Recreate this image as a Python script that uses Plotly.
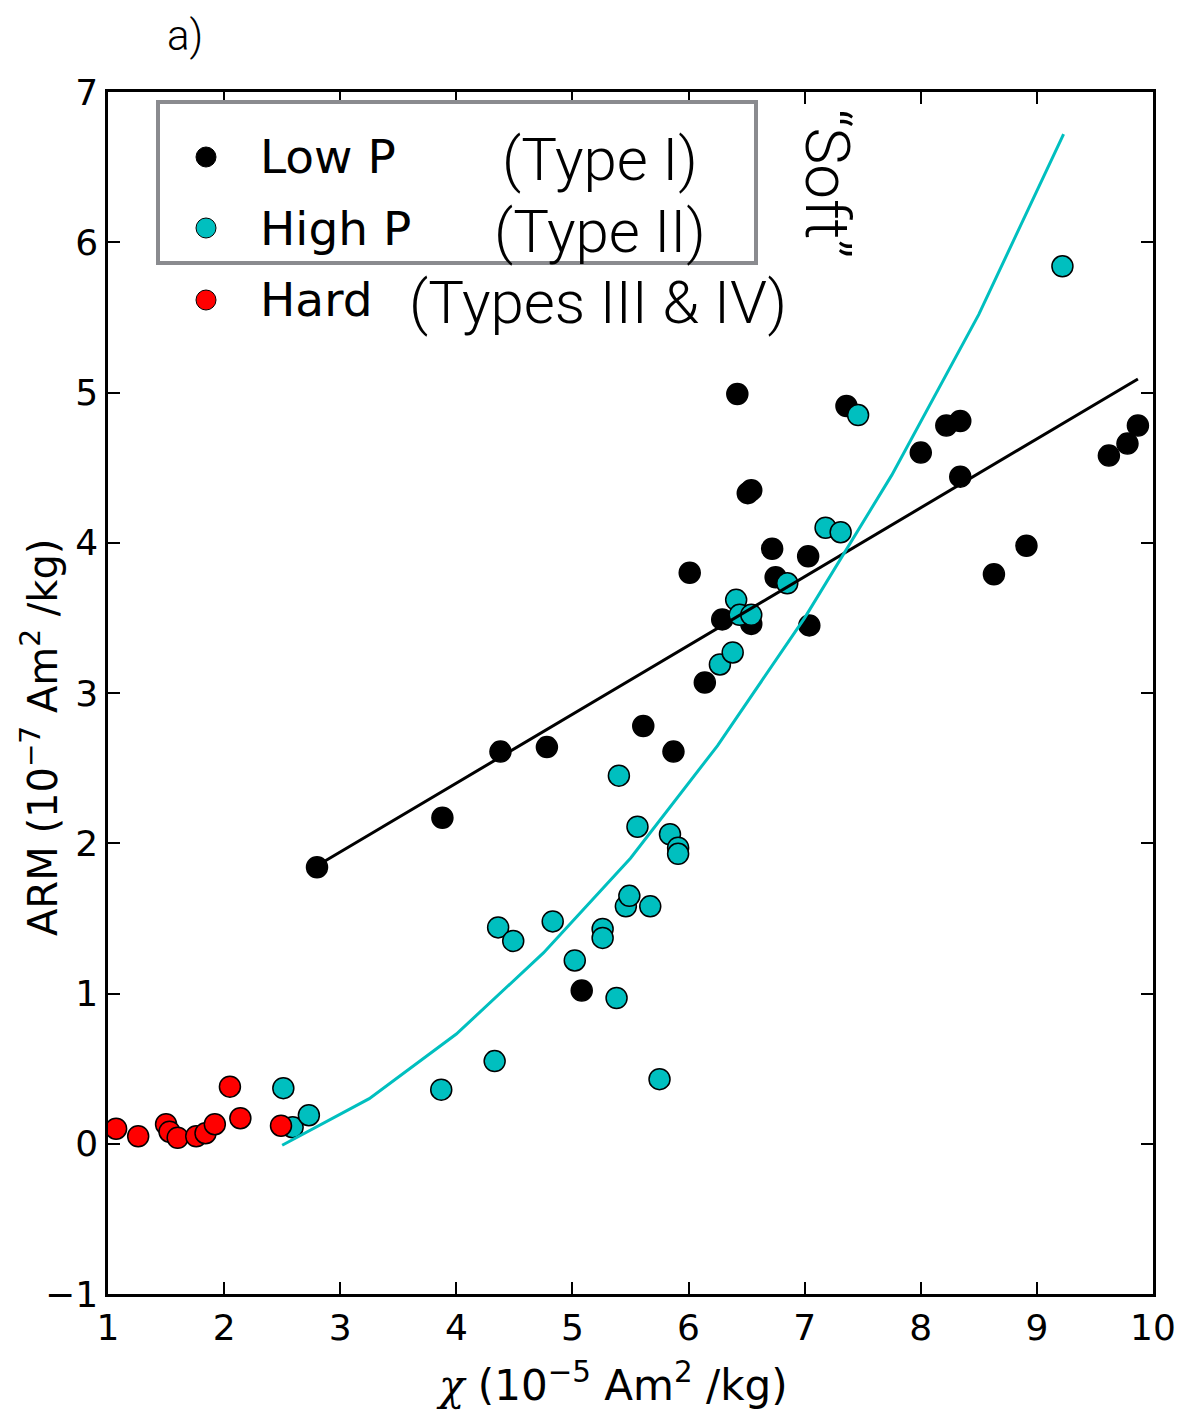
import plotly.graph_objects as go

# ---------------- data ----------------
low_x = [2.80, 3.88, 4.38, 4.78, 5.08, 5.61, 5.87, 6.14, 6.01, 6.29, 6.54, 6.42, 6.51, 6.54,
         6.72, 6.75, 7.03, 7.04, 7.36, 8.00, 8.22, 8.34, 8.34, 8.63, 8.91, 9.62, 9.78, 9.87]
low_y = [1.84, 2.17, 2.61, 2.64, 1.02, 2.78, 2.61, 3.07, 3.80, 3.49, 3.46, 4.99, 4.33, 4.35,
         3.96, 3.77, 3.91, 3.45, 4.91, 4.60, 4.78, 4.81, 4.44, 3.79, 3.98, 4.58, 4.66, 4.78]

high_x = [2.51, 2.59, 2.73, 3.87, 4.33, 4.36, 4.49, 4.83, 5.02, 5.26, 5.26, 5.38, 5.46, 5.49,
          5.67, 5.75, 5.40, 5.56, 5.84, 5.91, 5.91, 6.27, 6.38, 6.41, 6.44, 6.54, 6.85, 7.18,
          7.31, 7.46, 9.22]
high_y = [0.37, 0.11, 0.19, 0.36, 0.55, 1.44, 1.35, 1.48, 1.22, 1.43, 1.37, 0.97, 1.58, 1.65,
          1.58, 0.43, 2.45, 2.11, 2.06, 1.97, 1.93, 3.19, 3.27, 3.62, 3.52, 3.52, 3.73, 4.10,
          4.07, 4.85, 5.84]

hard_x = [1.07, 1.26, 1.50, 1.53, 1.60, 1.76, 1.84, 1.92, 2.05, 2.14, 2.49]
hard_y = [0.10, 0.05, 0.13, 0.08, 0.04, 0.05, 0.07, 0.13, 0.38, 0.17, 0.12]

# fitted curves as drawn
low_fit_x = [2.80, 9.87]
low_fit_y = [1.85, 5.09]
high_fit_x = [2.50, 3.25, 4.00, 4.75, 5.50, 6.25, 7.00, 7.75, 8.50, 9.23]
high_fit_y = [-0.01, 0.30, 0.73, 1.27, 1.90, 2.65, 3.50, 4.45, 5.52, 6.72]

x_ticks = [1, 2, 3, 4, 5, 6, 7, 8, 9, 10]
y_ticks = [-1, 0, 1, 2, 3, 4, 5, 6, 7]

legend_labels = ["Low P", "High P", "Hard"]
legend_types = ["(Type I)", "(Type II)", "(Types III & IV)"]

# ---------------- styling ----------------
BLACK = "#000000"
CYAN = "#00bfbf"
RED = "#ff0000"
MAIN_FONT = "DejaVu Sans"
LIGHT_FONT = "Roboto, Lato, Liberation Sans, DejaVu Sans"

W, H = 1187, 1410
L, R, T, B = 108, 34, 92, 116
PW, PH = W - L - R, H - T - B


def px2paper(px, py):
    return (px - L) / PW, (H - B - py) / PH


fig = go.Figure()

mk = dict(size=21, line=dict(color=BLACK, width=1.5))
fig.add_trace(go.Scatter(x=low_x, y=low_y, mode="markers",
                         marker=dict(color=BLACK, **mk), showlegend=False))
fig.add_trace(go.Scatter(x=high_x, y=high_y, mode="markers",
                         marker=dict(color=CYAN, **mk), showlegend=False))
fig.add_trace(go.Scatter(x=hard_x, y=hard_y, mode="markers",
                         marker=dict(color=RED, **mk), showlegend=False))
fig.add_trace(go.Scatter(x=low_fit_x, y=low_fit_y, mode="lines",
                         line=dict(color=BLACK, width=3), showlegend=False))
fig.add_trace(go.Scatter(x=high_fit_x, y=high_fit_y, mode="lines",
                         line=dict(color=CYAN, width=3), showlegend=False))

axis_common = dict(showline=True, linecolor=BLACK, linewidth=2.5, mirror="ticks",
                   ticks="inside", ticklen=12, tickwidth=1.5, tickcolor=BLACK,
                   showgrid=False, zeroline=False,
                   tickfont=dict(family=MAIN_FONT, size=36, color=BLACK))

fig.update_layout(
    width=W, height=H,
    margin=dict(l=L, r=R, t=T, b=B),
    paper_bgcolor="white", plot_bgcolor="white",
    xaxis=dict(range=[1, 10], tickvals=x_ticks, ticktext=[str(v) for v in x_ticks], **axis_common),
    yaxis=dict(range=[-1, 7], tickvals=y_ticks,
               ticktext=[("\u2212" + str(-v)) if v < 0 else str(v) for v in y_ticks], **axis_common),
    showlegend=False,
)

shapes = []
annotations = []

# legend box (only around first two entries)
bx0, by0 = px2paper(158, 263)
bx1, by1 = px2paper(756, 102)
shapes.append(dict(type="rect", xref="paper", yref="paper", x0=bx0, y0=by0, x1=bx1, y1=by1,
                   line=dict(color="#8a8b8f", width=4), fillcolor="rgba(0,0,0,0)"))

row_y = [157, 228, 300]
row_col = [BLACK, CYAN, RED]
type_x = [500, 492, 407]
for i in range(3):
    cx, cy = px2paper(206, row_y[i])
    shapes.append(dict(type="circle", xref="paper", yref="paper",
                       xsizemode="pixel", ysizemode="pixel", xanchor=cx, yanchor=cy,
                       x0=-10, x1=10, y0=-10, y1=10,
                       fillcolor=row_col[i], line=dict(color=BLACK, width=1)))
    ax, ay = px2paper(258, row_y[i])
    annotations.append(dict(xref="paper", yref="paper", x=ax, y=ay, xanchor="left", yanchor="middle",
                            text=legend_labels[i], showarrow=False,
                            font=dict(family=MAIN_FONT, size=47, color=BLACK)))
    tx, ty = px2paper(type_x[i], row_y[i] + 3)
    annotations.append(dict(xref="paper", yref="paper", x=tx, y=ty, xanchor="left", yanchor="middle",
                            text=legend_types[i], showarrow=False,
                            font=dict(family=LIGHT_FONT, size=60, color=BLACK, weight=300)))

# "Soft" rotated label
sx, sy = px2paper(828, 183)
annotations.append(dict(xref="paper", yref="paper", x=sx, y=sy, xanchor="center", yanchor="middle",
                        text="\u201cSoft\u201d", textangle=90, showarrow=False,
                        font=dict(family=LIGHT_FONT, size=62, color=BLACK, weight=300)))

# panel label
lx, ly = px2paper(165, 35)
annotations.append(dict(xref="paper", yref="paper", x=lx, y=ly, xanchor="left", yanchor="middle",
                        text="a)", showarrow=False,
                        font=dict(family=LIGHT_FONT, size=42, color=BLACK, weight=300)))

# axis titles
yx, yy = px2paper(40, 738)
annotations.append(dict(xref="paper", yref="paper", x=yx, y=yy, xanchor="center", yanchor="middle",
                        text="ARM (10<sup>\u22127</sup> Am<sup>2</sup> /kg)", textangle=-90, showarrow=False,
                        font=dict(family=MAIN_FONT, size=40, color=BLACK)))
xx, xy = px2paper(612, 1382)
annotations.append(dict(xref="paper", yref="paper", x=xx, y=xy, xanchor="center", yanchor="middle",
                        text="<span style='font-family:DejaVu Serif'><i>\u03c7</i></span> (10<sup>\u22125</sup> Am<sup>2</sup> /kg)",
                        showarrow=False,
                        font=dict(family="DejaVu Sans", size=42, color=BLACK)))

fig.update_layout(shapes=shapes, annotations=annotations)

fig.write_html("out.html")
